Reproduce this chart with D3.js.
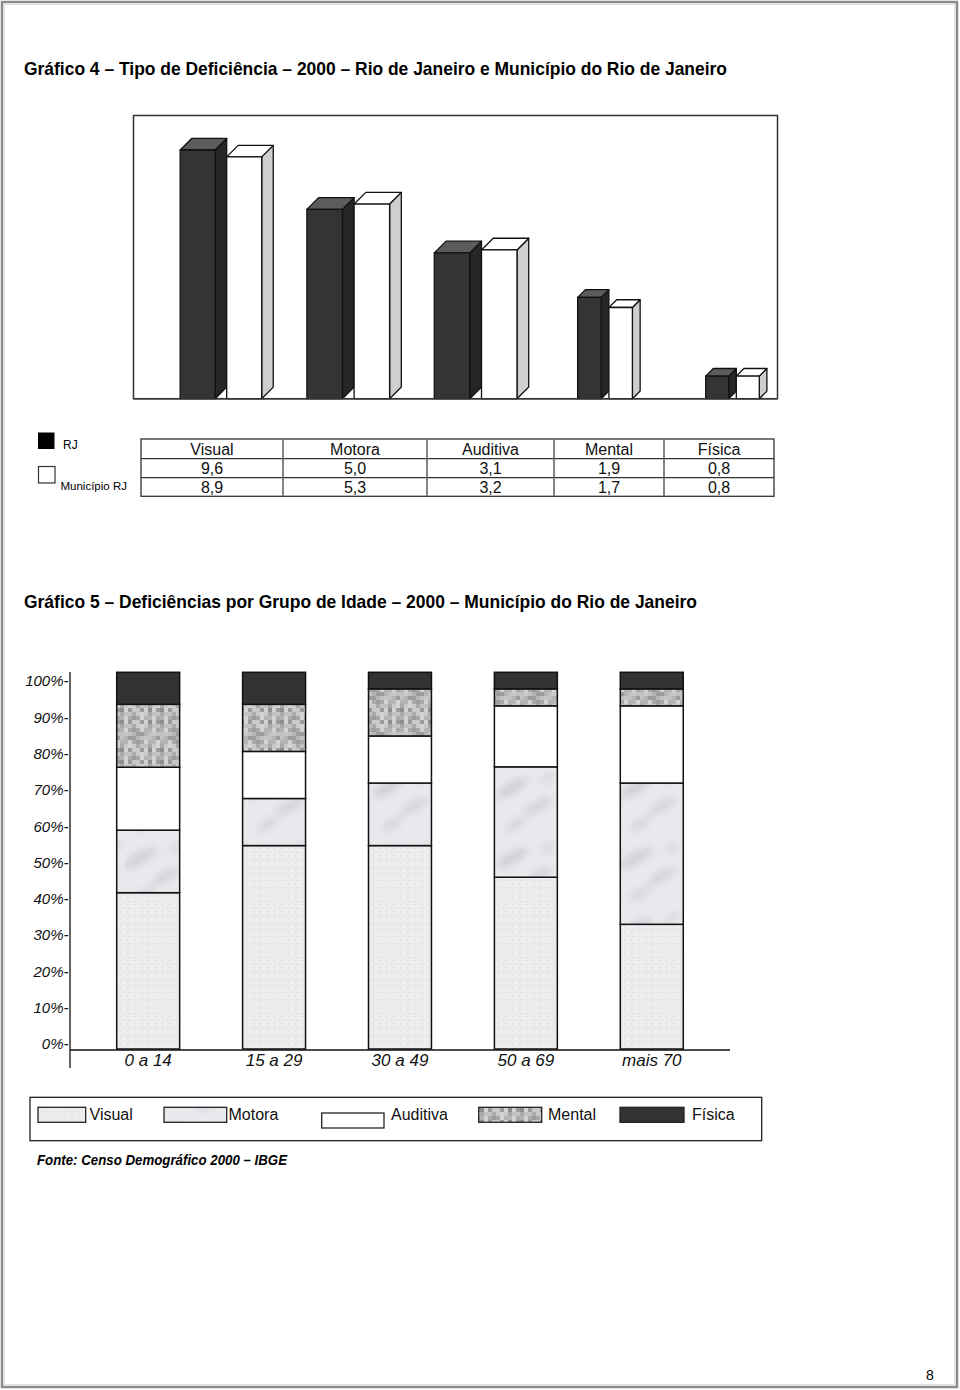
<!DOCTYPE html>
<html lang="pt">
<head>
<meta charset="UTF-8">
<title>Tipo de Deficiência</title>
<script src="https://cdn.jsdelivr.net/npm/d3@7"></script>
<style>
	body{ margin:0; background:#fff; }
	svg{ display:block; font-family:"Liberation Sans", Arial, sans-serif; }
</style>
</head>
<body>
<svg></svg>
<script>
// Gráfico 4 - tipo de deficiência (%)
var tipos = ["Visual", "Motora", "Auditiva", "Mental", "Física"];
var rj = [9.6, 5.0, 3.1, 1.9, 0.8];
var municipio = [8.9, 5.3, 3.2, 1.7, 0.8];

// Gráfico 5 - deficiências por grupo de idade (% do grupo)
var grupos = ["0 a 14", "15 a 29", "30 a 49", "50 a 69", "mais 70"];
var visual = [41.5, 54.0, 54.0, 45.6, 33.1];
var motora = [16.6, 12.5, 16.6, 29.3, 37.5];
var auditiva = [16.7, 12.5, 12.5, 16.2, 20.5];
var mental = [16.7, 12.5, 12.5, 4.5, 4.5];
var fisica = [8.5, 8.5, 4.4, 4.4, 4.4];
var yTicks = [0, 10, 20, 30, 40, 50, 60, 70, 80, 90, 100];

var W = 960, H = 1390;
var svg = d3.select("svg").attr("width", W).attr("height", H);
var defs = svg.append("defs");

// page frame
svg.append("rect").attr("x", 2).attr("y", 2).attr("width", 955).attr("height", 1385)
	.attr("fill", "none").attr("stroke", "#8a8a8a").attr("stroke-width", 2.5);
svg.append("rect").attr("x", 4.5).attr("y", 4.5).attr("width", 950).attr("height", 1380)
	.attr("fill", "none").attr("stroke", "#e2e2e2").attr("stroke-width", 1);

svg.append("text").attr("x", 24).attr("y", 75)
	.attr("font-family", "'Liberation Sans Narrow', 'Liberation Sans', Arial, sans-serif")
	.attr("font-weight", "bold").attr("font-size", 19)
	.attr("textLength", 703).attr("lengthAdjust", "spacingAndGlyphs")
	.text("Gráfico 4 – Tipo de Deficiência – 2000 – Rio de Janeiro e Município do Rio de Janeiro");

// ---------- Gráfico 4 ----------
var frame = {x0: 133.5, x1: 777.5, y0: 115.5, y1: 398.7};
var barW = [35, 35.5, 35.5, 23.5, 23];

var x4 = d3.scaleBand().domain(tipos).range([163, 800]);
var y4 = d3.scaleLog().domain([0.624, 10]).range([frame.y1, frame.y1 - 252.4]);

svg.append("rect").attr("x", frame.x0).attr("y", frame.y0)
	.attr("width", frame.x1 - frame.x0).attr("height", frame.y1 - frame.y0)
	.attr("fill", "#fff").attr("stroke", "#333").attr("stroke-width", 1.5);

var series4 = [
	{key: "RJ", values: rj, front: "#343434", side: "#262626", top: "#5c5c5c"},
	{key: "Município RJ", values: municipio, front: "#ffffff", side: "#cfcfcf", top: "#ffffff"}
];

var g4 = svg.append("g").attr("stroke", "#111").attr("stroke-width", 1.3).attr("stroke-linejoin", "round");

tipos.forEach(function(t, i) {
	var w = barW[i], d = w * 0.33;
	var cx = x4(t) + x4.bandwidth() / 2;
	var left = cx - (w + d);
	series4.forEach(function(s, k) {
		var x = left + k * (w + d);
		var yt = y4(s.values[i]), yb = frame.y1;
		// side face
		g4.append("path")
			.attr("d", "M" + (x + w) + "," + yb + "L" + (x + w + d) + "," + (yb - d) +
				"L" + (x + w + d) + "," + (yt - d) + "L" + (x + w) + "," + yt + "Z")
			.attr("fill", s.side);
		// top face
		g4.append("path")
			.attr("d", "M" + x + "," + yt + "L" + (x + d) + "," + (yt - d) +
				"L" + (x + w + d) + "," + (yt - d) + "L" + (x + w) + "," + yt + "Z")
			.attr("fill", s.top);
		// front face
		g4.append("rect").attr("x", x).attr("y", yt).attr("width", w).attr("height", yb - yt)
			.attr("fill", s.front);
	});
});
// redraw floor line over the bar feet
svg.append("line").attr("x1", frame.x0).attr("x2", frame.x1).attr("y1", frame.y1).attr("y2", frame.y1)
	.attr("stroke", "#333").attr("stroke-width", 1.5);

// legend keys
svg.append("rect").attr("x", 38).attr("y", 432.5).attr("width", 16.5).attr("height", 16.5).attr("fill", "#000");
svg.append("text").attr("x", 63).attr("y", 449).attr("font-size", 12).text("RJ");
svg.append("rect").attr("x", 38.5).attr("y", 466.5).attr("width", 16.5).attr("height", 16.5)
	.attr("fill", "#fff").attr("stroke", "#333").attr("stroke-width", 1.2);
svg.append("text").attr("x", 60.5).attr("y", 490).attr("font-size", 11.5).text("Município RJ");

// data table
var colW = [142, 144, 127, 110, 110];
var tx0 = 141, rows = [439, 458.7, 477.7, 496.3];
var colX = [tx0];
colW.forEach(function(w) { colX.push(colX[colX.length - 1] + w); });

var tbl = svg.append("g");
tbl.append("rect").attr("x", tx0).attr("y", rows[0]).attr("width", colX[5] - tx0).attr("height", rows[3] - rows[0])
	.attr("fill", "none").attr("stroke", "#333").attr("stroke-width", 1.3);
[1, 2].forEach(function(r) {
	tbl.append("line").attr("x1", tx0).attr("x2", colX[5]).attr("y1", rows[r]).attr("y2", rows[r])
		.attr("stroke", "#333").attr("stroke-width", 1.3);
});
colX.slice(1, 5).forEach(function(x) {
	tbl.append("line").attr("x1", x).attr("x2", x).attr("y1", rows[0]).attr("y2", rows[3])
		.attr("stroke", "#666").attr("stroke-width", 1.6);
});
var fmt = function(v) { return d3.format(".1f")(v).replace(".", ","); };
var tableRows = [tipos, rj.map(fmt), municipio.map(fmt)];
tableRows.forEach(function(row, r) {
	tbl.selectAll(null).data(row).enter().append("text")
		.attr("x", function(d, i) { return colX[i] + colW[i] / 2; })
		.attr("y", (rows[r] + rows[r + 1]) / 2 + 6)
		.attr("text-anchor", "middle").attr("font-size", 16).attr("fill", "#111")
		.text(function(d) { return d; });
});

// ---------- Gráfico 5 ----------
svg.append("text").attr("x", 24).attr("y", 608)
	.attr("font-family", "'Liberation Sans Narrow', 'Liberation Sans', Arial, sans-serif")
	.attr("font-weight", "bold").attr("font-size", 19)
	.attr("textLength", 673).attr("lengthAdjust", "spacingAndGlyphs")
	.text("Gráfico 5 – Deficiências por Grupo de Idade – 2000 – Município do Rio de Janeiro");

// textures
var pv = defs.append("pattern").attr("id", "pVisual").attr("patternUnits", "userSpaceOnUse")
	.attr("width", 7).attr("height", 7);
pv.append("rect").attr("width", 7).attr("height", 7).attr("fill", "#ececec");
[[1, 1, "#d9d9d9"], [4, 2, "#f8f8f8"], [2, 5, "#dcdcdc"], [5, 5, "#e2e2e2"], [0, 3, "#f5f5f5"]].forEach(function(p) {
	pv.append("rect").attr("x", p[0]).attr("y", p[1]).attr("width", 1.2).attr("height", 1.2).attr("fill", p[2]);
});

defs.append("filter").attr("id", "soft").attr("x", "-50%").attr("y", "-50%").attr("width", "200%").attr("height", "200%")
	.append("feGaussianBlur").attr("stdDeviation", 3.5);
var pm = defs.append("pattern").attr("id", "pMotora").attr("patternUnits", "userSpaceOnUse")
	.attr("width", 62).attr("height", 70);
pm.append("rect").attr("width", 62).attr("height", 70).attr("fill", "#e8e9ed");
var blobs = pm.append("g").attr("filter", "url(#soft)");
[[16, 18, 18, 6, "#d0d2d8"], [42, 36, 16, 5, "#d3d5db"], [20, 54, 12, 5, "#d6d8de"], [52, 8, 9, 4, "#d8dadf"]].forEach(function(b) {
	blobs.append("ellipse").attr("cx", b[0]).attr("cy", b[1]).attr("rx", b[2]).attr("ry", b[3])
		.attr("transform", "rotate(-30," + b[0] + "," + b[1] + ")").attr("fill", b[4]);
});

var shades = ["#8e8e8e", "#a9a9a9", "#c2c2c2", "#d3d3d3", "#b4b4b4", "#9c9c9c", "#c9c9c9"];
var pmt = defs.append("pattern").attr("id", "pMental").attr("patternUnits", "userSpaceOnUse")
	.attr("width", 40).attr("height", 40);
for (var i = 0; i < 10; i++) {
	for (var j = 0; j < 10; j++) {
		pmt.append("rect").attr("x", i * 4).attr("y", j * 4).attr("width", 4).attr("height", 4)
			.attr("fill", shades[(i * i * 3 + j * 7 + i * j * 5 + j * j) % 7]);
	}
}

var keys = ["Visual", "Motora", "Auditiva", "Mental", "Física"];
var fills = {"Visual": "url(#pVisual)", "Motora": "url(#pMotora)", "Auditiva": "#ffffff",
	"Mental": "url(#pMental)", "Física": "#333333"};
var table5 = grupos.map(function(g, i) {
	return {grupo: g, "Visual": visual[i], "Motora": motora[i], "Auditiva": auditiva[i],
		"Mental": mental[i], "Física": fisica[i]};
});
var stacked = d3.stack().keys(keys)(table5);

var x5 = d3.scaleBand().domain(grupos).range([53.75, 746.2]).padding(0.5);
var y5 = d3.scaleLinear().domain([0, 100]).range([1049, 672.3]);
var yLab = d3.scaleLinear().domain([0, 100]).range([1044, 681]);

var g5 = svg.append("g");
g5.selectAll("g").data(stacked).enter().append("g")
	.attr("fill", function(s) { return fills[s.key]; })
	.selectAll("rect").data(function(s) { return s; }).enter().append("rect")
	.attr("x", function(d) { return x5(d.data.grupo); })
	.attr("width", x5.bandwidth())
	.attr("y", function(d) { return y5(d[1]); })
	.attr("height", function(d) { return y5(d[0]) - y5(d[1]); })
	.attr("stroke", "#111").attr("stroke-width", 1.5);

// axes
svg.append("line").attr("x1", 70).attr("x2", 70).attr("y1", 672).attr("y2", 1068)
	.attr("stroke", "#111").attr("stroke-width", 1.3);
svg.append("line").attr("x1", 70).attr("x2", 730).attr("y1", 1050).attr("y2", 1050)
	.attr("stroke", "#111").attr("stroke-width", 1.3);

var yAxis = svg.append("g").attr("transform", "translate(70,0)")
	.call(d3.axisLeft(yLab).tickValues(yTicks).tickSize(0).tickPadding(1.5)
		.tickFormat(function(d) { return d + "%-"; }));
yAxis.select(".domain").remove();
yAxis.selectAll("text").attr("font-family", "'Liberation Sans', Arial, sans-serif")
	.attr("font-style", "italic").attr("font-size", 15).attr("fill", "#111");

var xAxis = svg.append("g").attr("transform", "translate(0,1050)")
	.call(d3.axisBottom(x5).tickSize(0).tickPadding(4));
xAxis.select(".domain").remove();
xAxis.selectAll("text").attr("font-family", "'Liberation Sans', Arial, sans-serif")
	.attr("font-style", "italic").attr("font-size", 17).attr("fill", "#111");

// legend
svg.append("rect").attr("x", 30).attr("y", 1097.3).attr("width", 731.7).attr("height", 43.4)
	.attr("fill", "#fff").attr("stroke", "#222").attr("stroke-width", 1.3);
var legendItems = [
	{key: "Visual", x: 38, w: 47.7, y: 1107.3, tx: 89.5},
	{key: "Motora", x: 164, w: 62.7, y: 1107.3, tx: 228.5},
	{key: "Auditiva", x: 321.7, w: 62.3, y: 1113, tx: 391},
	{key: "Mental", x: 478.7, w: 63, y: 1107.3, tx: 548},
	{key: "Física", x: 620, w: 64, y: 1107.3, tx: 692}
];
var lg = svg.append("g").selectAll("g").data(legendItems).enter().append("g");
lg.append("rect").attr("x", function(d) { return d.x; }).attr("y", function(d) { return d.y; })
	.attr("width", function(d) { return d.w; }).attr("height", 15)
	.attr("fill", function(d) { return fills[d.key]; }).attr("stroke", "#222").attr("stroke-width", 1.3);
lg.append("text").attr("x", function(d) { return d.tx; }).attr("y", 1120)
	.attr("font-size", 16).attr("fill", "#111").text(function(d) { return d.key; });

svg.append("text").attr("x", 37).attr("y", 1165)
	.attr("font-weight", "bold").attr("font-style", "italic").attr("font-size", 14.5)
	.attr("textLength", 250).attr("lengthAdjust", "spacingAndGlyphs")
	.text("Fonte: Censo Demográfico 2000 – IBGE");

svg.append("text").attr("x", 926).attr("y", 1380).attr("font-size", 14).text("8");
</script>
</body>
</html>
